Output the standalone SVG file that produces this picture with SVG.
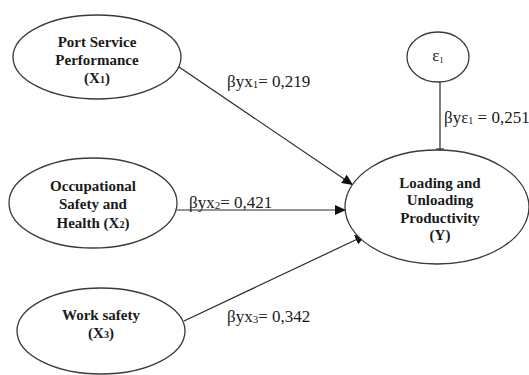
<svg xmlns="http://www.w3.org/2000/svg" width="529" height="375" viewBox="0 0 529 375">
<style>
.node{fill:#fff;stroke:#3a3a3a;stroke-width:1.3}
.nt{font-family:"Liberation Serif","Times New Roman","DejaVu Serif",serif;font-size:15px;font-weight:bold;text-anchor:middle;fill:#1a1a1a}
.lb{font-family:"Liberation Serif","Times New Roman","DejaVu Serif",serif;font-size:17px;fill:#1a1a1a}
.con{stroke:#2a2a2a;stroke-width:1.2;fill:none}
</style>
<defs>
<marker id="ah" markerWidth="12" markerHeight="10" refX="11" refY="5" orient="auto" markerUnits="userSpaceOnUse">
<path d="M0,0 L11,5 L0,10 Z" fill="#111"/>
</marker>
</defs>
<rect width="529" height="375" fill="#fff"/>
<g id="connectors">
<line class="con" x1="179" y1="67" x2="353" y2="185" marker-end="url(#ah)"/>
<line class="con" x1="177" y1="210" x2="346" y2="210" marker-end="url(#ah)"/>
<line class="con" x1="184" y1="321" x2="366" y2="235" marker-end="url(#ah)"/>
<line class="con" x1="440" y1="82" x2="440" y2="150"/>
<line class="con" x1="436" y1="149" x2="444" y2="149"/>
</g>
<g id="labels">
<text class="lb" x="227" y="87">βyx<tspan font-size="11" dy="1">1</tspan><tspan dy="-1">= 0,219</tspan></text>
<text class="lb" x="189" y="208">βyx<tspan font-size="11" dy="1">2</tspan><tspan dy="-1">= 0,421</tspan></text>
<text class="lb" x="227" y="322">βyx<tspan font-size="11" dy="1">3</tspan><tspan dy="-1">= 0,342</tspan></text>
<text class="lb" x="444" y="123" font-size="15">βyε<tspan font-size="10" dy="1">1</tspan><tspan dy="-1"> = 0,251</tspan></text>
</g>
<g id="x1">
<ellipse class="node" cx="97" cy="57" rx="84" ry="42"/>
<text class="nt" x="97" y="47">Port Service</text>
<text class="nt" x="97" y="65">Performance</text>
<text class="nt" x="97" y="83">(X<tspan font-size="10">1</tspan>)</text>
</g>
<g id="x2">
<ellipse class="node" cx="93" cy="203" rx="84" ry="45"/>
<text class="nt" x="93" y="191">Occupational</text>
<text class="nt" x="93" y="209">Safety and</text>
<text class="nt" x="93" y="228">Health (X<tspan font-size="10">2</tspan>)</text>
</g>
<g id="x3">
<ellipse class="node" cx="101" cy="331" rx="84" ry="43"/>
<text class="nt" x="101" y="320">Work safety</text>
<text class="nt" x="101" y="338">(X<tspan font-size="10">3</tspan>)</text>
</g>
<g id="e1">
<ellipse class="node" cx="438" cy="57" rx="31" ry="25"/>
<text class="lb" x="438" y="61" text-anchor="middle" font-size="13">ε<tspan font-size="9" dy="2">1</tspan></text>
</g>
<g id="y">
<ellipse class="node" cx="437" cy="207" rx="92" ry="57"/>
<text class="nt" x="440" y="188">Loading and</text>
<text class="nt" x="440" y="205">Unloading</text>
<text class="nt" x="440" y="223">Productivity</text>
<text class="nt" x="440" y="240">(Y)</text>
</g>
</svg>
